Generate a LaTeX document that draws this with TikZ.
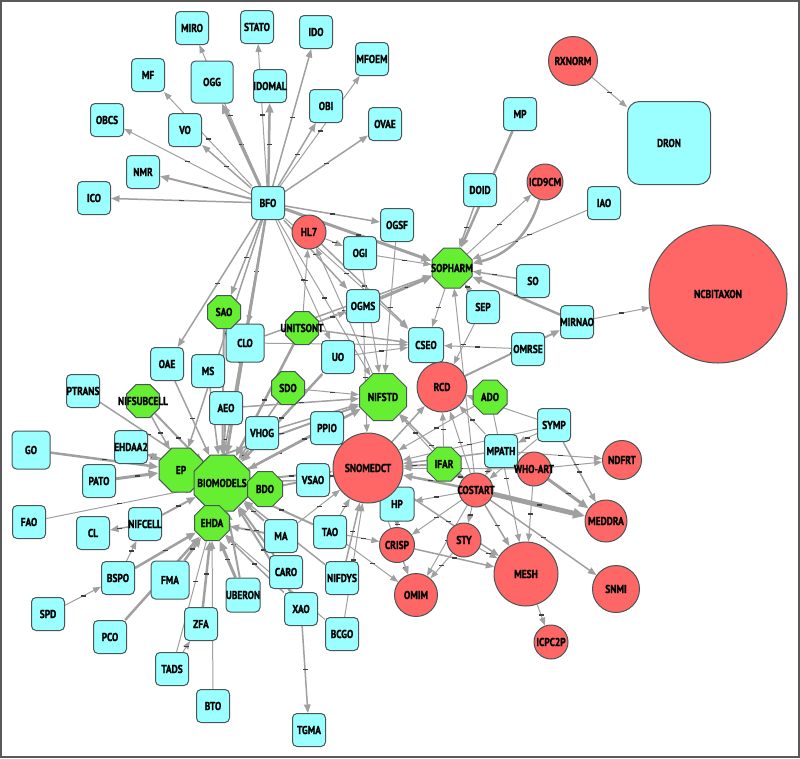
\documentclass[tikz,border=0pt]{standalone}
\usepackage{fontspec}
\newfontfamily\lblfont[FakeStretch=0.82,FakeBold=1.2]{PT Sans}
\usetikzlibrary{arrows.meta,shapes.geometric}
\definecolor{cy}{HTML}{9CFFFF}
\definecolor{gr}{HTML}{66EE33}
\definecolor{rd}{HTML}{FF6666}
\definecolor{eg}{HTML}{A0A0A0}
\definecolor{bd}{HTML}{4A5656}
\pgfdeclarelayer{bg}
\pgfsetlayers{bg,main}
\tikzset{
 lbl/.style={font=\lblfont\bfseries\fontsize{11.5}{11.5}\selectfont, text=black, inner sep=0},
 bx/.style={rectangle, rounded corners=4.5pt, draw=bd, line width=1pt, fill=cy, inner sep=0, minimum size=33pt},
 oc/.style={regular polygon, regular polygon sides=8, draw=bd, line width=1pt, fill=gr, inner sep=0},
 ci/.style={circle, draw=bd, line width=1pt, fill=rd, inner sep=0},
 e/.style={draw=eg, -{Triangle[length=7pt 1, width=5pt 1]}},
 tk/.style={fill=black!75, inner sep=0, minimum width=5pt, minimum height=1.3pt, draw=none}
}
\newcommand\BX[5]{\node[bx,minimum size=#4pt,label={[lbl]center:#5}] (#1) at (#2,#3) {};}
\newcommand\OC[5]{\node[oc,minimum size={#4/0.924*1pt},label={[lbl]center:#5}] (#1) at (#2,#3) {};}
\newcommand\CI[5]{\node[ci,minimum size=#4pt,label={[lbl]center:#5}] (#1) at (#2,#3) {};}
\newcommand\ED[3]{\draw[e,line width=#3pt] (#1) -- node[tk]{} (#2);}
\begin{document}
\begin{tikzpicture}[x=1pt,y=-1pt]
\useasboundingbox (0,0) rectangle (800,758);
% boxes
\BX{miro}{192}{28}{33}{MIRO}
\BX{stato}{257}{27}{33}{STATO}
\BX{ido}{316}{32}{33}{IDO}
\BX{mfoem}{372}{59}{33}{MFOEM}
\BX{mf}{148}{75}{33}{MF}
\BX{ogg}{212}{82}{42}{OGG}
\BX{idomal}{270}{86}{33}{IDOMAL}
\BX{obi}{326}{106}{33}{OBI}
\BX{ovae}{385}{124}{33}{OVAE}
\BX{obcs}{107}{120}{33}{OBCS}
\BX{vo}{185}{130}{33}{VO}
\BX{nmr}{143}{172}{33}{NMR}
\BX{ico}{94}{198}{33}{ICO}
\BX{bfo}{268}{203}{33}{BFO}
\BX{mp}{520}{114}{33}{MP}
\node[bx,rounded corners=12pt,minimum size=83pt,label={[lbl]center:DRON}] (dron) at (669,143) {};
\BX{doid}{480}{190}{33}{DOID}
\BX{iao}{604}{203}{33}{IAO}
\BX{ogsf}{397}{225}{33}{OGSF}
\BX{ogi}{360}{253}{33}{OGI}
\BX{so}{533}{281}{33}{SO}
\BX{mirnao}{577}{322}{33}{MIRNAO}
\BX{ogms}{363}{306}{33}{OGMS}
\BX{sep}{483}{307}{33}{SEP}
\BX{cseo}{426}{345}{35}{CSEO}
\BX{omrse}{528}{349}{33}{OMRSE}
\BX{uo}{338}{357}{33}{UO}
\BX{clo}{245}{343}{38}{CLO}
\BX{oae}{167}{364}{33}{OAE}
\BX{ms}{208}{371}{33}{MS}
\BX{ptrans}{83}{391}{33}{PTRANS}
\BX{aeo}{226}{408}{33}{AEO}
\BX{ppio}{327}{428}{33}{PPIO}
\BX{vhog}{262}{433}{33}{VHOG}
\BX{symp}{554}{425}{33}{SYMP}
\BX{mpath}{501}{451}{33}{MPATH}
\BX{go}{31}{450}{38}{GO}
\BX{ehdaa2}{131}{447}{33}{EHDAA2}
\BX{pato}{99}{481}{33}{PATO}
\BX{vsao}{313}{480}{33}{VSAO}
\BX{hp}{397}{504}{34}{HP}
\BX{fao}{29}{522}{33}{FAO}
\BX{cl}{93}{533}{33}{CL}
\BX{nifcell}{145}{524}{33}{NIFCELL}
\BX{ma}{281}{536}{33}{MA}
\BX{tao}{330}{532}{33}{TAO}
\BX{caro}{286}{572}{33}{CARO}
\BX{nifdys}{342}{578}{33}{NIFDYS}
\BX{bspo}{118}{578}{33}{BSPO}
\BX{fma}{170}{580}{38}{FMA}
\BX{uberon}{243}{595}{34}{UBERON}
\BX{spd}{48}{614}{33}{SPD}
\BX{xao}{301}{609}{33}{XAO}
\BX{zfa}{201}{624}{33}{ZFA}
\BX{bcgo}{342}{634}{33}{BCGO}
\BX{pco}{110}{637}{33}{PCO}
\BX{tads}{172}{669}{33}{TADS}
\BX{bto}{213}{706}{33}{BTO}
\BX{tgma}{309}{730}{33}{TGMA}
% octagons
\OC{sopharm}{452}{268}{40}{SOPHARM}
\OC{sao}{224}{312}{33}{SAO}
\OC{unitsont}{302}{328}{33}{UNITSONT}
\OC{sdo}{288}{388}{33}{SDO}
\OC{nifstd}{383}{397}{47}{NIFSTD}
\OC{ado}{490}{397}{34}{ADO}
\OC{nifsubcell}{143}{401}{33}{NIFSUBCELL}
\OC{ep}{181}{470}{44}{EP}
\OC{biomodels}{222}{483}{56}{BIOMODELS}
\OC{bdo}{265}{489}{35}{BDO}
\OC{ehda}{212}{523}{35}{EHDA}
\OC{ifar}{444}{464}{34}{IFAR}
% circles
\CI{rxnorm}{573}{61}{49}{RXNORM}
\CI{hl7}{309}{232}{34}{HL7}
\CI{icd9cm}{545}{182}{36}{ICD9CM}
\CI{ncbitaxon}{718}{294}{138}{NCBITAXON}
\CI{rcd}{442}{387}{50}{RCD}
\CI{snomedct}{368}{468}{70}{SNOMEDCT}
\CI{costart}{476}{490}{34}{COSTART}
\CI{whoart}{534}{469}{34}{WHO-ART}
\CI{ndfrt}{622}{460}{39}{NDFRT}
\CI{meddra}{606}{521}{42}{MEDDRA}
\CI{crisp}{397}{545}{35}{CRISP}
\CI{sty}{464}{540}{34}{STY}
\CI{omim}{416}{595}{43}{OMIM}
\CI{mesh}{526}{574}{64}{MESH}
\CI{snmi}{616}{589}{47}{SNMI}
\CI{icpc2p}{551}{642}{34}{ICPC2P}
\begin{pgfonlayer}{bg}
\fill[white] (0,0) rectangle (800,758);
% BFO fan
\ED{bfo}{ico}{1.5}
\ED{bfo}{nmr}{2}
\ED{bfo}{obcs}{1}
\ED{bfo}{vo}{1.5}
\ED{bfo}{mf}{1}
\ED{bfo}{ogg}{3}
\ED{bfo}{miro}{1}
\ED{bfo}{stato}{1}
\ED{bfo}{idomal}{2.5}
\ED{bfo}{ido}{1.5}
\ED{bfo}{obi}{1.5}
\ED{bfo}{mfoem}{1}
\ED{bfo}{ovae}{1.5}
\ED{bfo}{ogsf}{1.5}
\ED{bfo}{sopharm}{3}
\ED{bfo}{ogms}{1.5}
\ED{bfo}{oae}{1.5}
\ED{bfo}{sao}{1.5}
\ED{bfo}{clo}{1}
\ED{bfo}{biomodels}{2.5}
\ED{bfo}{ep}{1.5}
\ED{bfo}{ehda}{1.5}
\ED{bfo}{cseo}{1}
\ED{bfo}{uo}{1}
\ED{bfo}{nifstd}{1}
\ED{hl7}{ogi}{1}
\ED{hl7}{cseo}{1.5}
\ED{unitsont}{hl7}{1}
\ED{nifstd}{hl7}{1}
% SOPHARM
\ED{mp}{sopharm}{2.5}
\ED{doid}{sopharm}{1.5}
\ED{sopharm}{icd9cm}{1}
\draw[e,line width=2.5pt] (icd9cm) to[bend left=30] node[tk]{} (sopharm);
\ED{iao}{sopharm}{1}
\ED{so}{sopharm}{1.5}
\ED{mirnao}{sopharm}{2.5}
\ED{sep}{sopharm}{1}
\ED{sopharm}{cseo}{1}
\ED{ogi}{sopharm}{1}
\ED{ogms}{sopharm}{2.5}
\ED{clo}{sopharm}{1.5}
\ED{unitsont}{sopharm}{1}
\ED{costart}{sopharm}{1}
\ED{rcd}{mirnao}{2}
\ED{mirnao}{ncbitaxon}{1}
\ED{omrse}{cseo}{1}
\ED{rxnorm}{dron}{1}
% middle
\ED{ogsf}{nifstd}{1}
\ED{ogi}{nifstd}{1}
\ED{unitsont}{ogms}{1}
\ED{ogms}{snomedct}{1}
\ED{uo}{cseo}{1}
\ED{unitsont}{cseo}{1.5}
\ED{clo}{cseo}{1}
\ED{sep}{rcd}{1}
\ED{symp}{rcd}{1}
\ED{snomedct}{rcd}{1.5}
\ED{ifar}{rcd}{1}
\ED{costart}{rcd}{1}
\ED{mpath}{rcd}{1}
\ED{ifar}{snomedct}{2}
\ED{costart}{snomedct}{2.5}
\ED{mpath}{snomedct}{1.5}
\ED{whoart}{snomedct}{1}
\ED{hp}{snomedct}{1.5}
\ED{symp}{snomedct}{1}
\ED{ado}{snomedct}{1}
\ED{ado}{mesh}{1}
\ED{costart}{nifstd}{1.5}
\ED{ifar}{nifstd}{1}
% left cluster
\ED{go}{ep}{2.5}
\ED{pato}{ep}{3}
\ED{ehdaa2}{ep}{2}
\ED{biomodels}{ehdaa2}{1.5}
\ED{ptrans}{biomodels}{1.5}
\ED{nifsubcell}{biomodels}{2}
\ED{nifsubcell}{ep}{1.5}
\ED{oae}{biomodels}{1.5}
\ED{ms}{biomodels}{1.5}
\ED{aeo}{biomodels}{2}
\ED{clo}{biomodels}{2}
\ED{sao}{biomodels}{2}
\ED{sdo}{biomodels}{1.5}
\ED{unitsont}{biomodels}{2.5}
\ED{vhog}{biomodels}{2}
\ED{ppio}{biomodels}{1.5}
\ED{vsao}{biomodels}{1.5}
\ED{uo}{biomodels}{2.5}
\ED{fao}{biomodels}{1}
\ED{nifcell}{cl}{1.5}
\ED{nifcell}{biomodels}{2}
\ED{bspo}{ehda}{2.5}
\ED{spd}{bspo}{1}
\ED{bspo}{nifcell}{1}
\ED{pco}{ehda}{2.5}
\ED{fma}{ehda}{2.5}
\ED{zfa}{ehda}{2.5}
\ED{bto}{ehda}{1}
\ED{tads}{zfa}{1}
\ED{tads}{biomodels}{1}
\ED{uberon}{ehda}{3}
\ED{uberon}{biomodels}{2}
\ED{ma}{biomodels}{2}
\ED{ma}{ehda}{2}
\ED{caro}{biomodels}{2}
\ED{tao}{biomodels}{2}
\ED{xao}{biomodels}{2}
\ED{xao}{ehda}{1.5}
\ED{xao}{tgma}{1.5}
\ED{bcgo}{ehda}{1}
\ED{bcgo}{snomedct}{1}
\ED{nifdys}{snomedct}{1.5}
\ED{nifdys}{biomodels}{1.5}
\ED{tao}{omim}{1}
\ED{tao}{crisp}{1}
\ED{crisp}{mesh}{1.5}
\ED{hp}{crisp}{1.5}
\ED{crisp}{omim}{1}
\ED{costart}{omim}{1}
\ED{sty}{omim}{1}
\ED{biomodels}{nifstd}{2.5}
\ED{ep}{nifstd}{2}
\ED{aeo}{nifstd}{1.5}
\ED{vhog}{nifstd}{1.5}
\ED{sdo}{nifstd}{1}
\ED{biomodels}{snomedct}{2}
\ED{bdo}{snomedct}{2}
\ED{ppio}{snomedct}{1.5}
\ED{vsao}{snomedct}{1}
\ED{ma}{snomedct}{1}
\ED{tao}{snomedct}{1}
\ED{bdo}{biomodels}{2}
\ED{ehda}{biomodels}{3}
\ED{ep}{biomodels}{3}
% bottom right
\ED{costart}{meddra}{5}
\ED{whoart}{meddra}{3}
\ED{symp}{meddra}{1.5}
\ED{whoart}{ndfrt}{1}
\ED{mpath}{ndfrt}{1}
\ED{whoart}{mesh}{1}
\ED{costart}{mesh}{1.5}
\ED{costart}{snmi}{1.5}
\ED{mesh}{icpc2p}{1}
\ED{costart}{hp}{1}
\ED{costart}{crisp}{1}
\ED{costart}{sty}{1}
\ED{snomedct}{mesh}{1.5}
\ED{snomedct}{omim}{1}
\ED{symp}{mpath}{1}
\ED{symp}{costart}{1}
\ED{mpath}{costart}{1}
\ED{ifar}{costart}{1}
\ED{sty}{mesh}{1}
\end{pgfonlayer}
\draw[line width=2pt, draw=black!65] (1,1) rectangle (799,757);
\end{tikzpicture}
\end{document}
